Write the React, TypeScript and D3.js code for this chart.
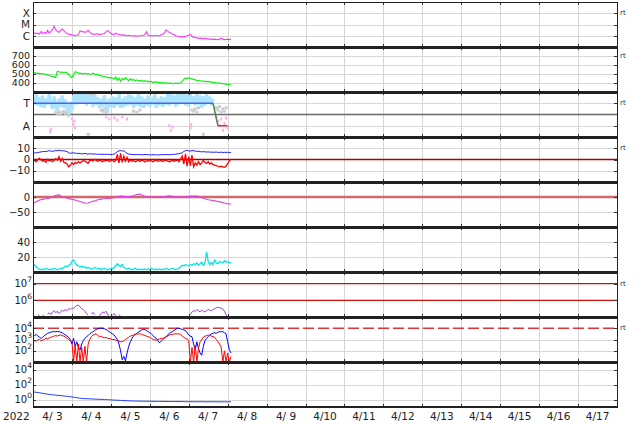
import React from 'react';
import * as d3 from 'd3';

const DAY_LABELS = ['4/ 3','4/ 4','4/ 5','4/ 6','4/ 7','4/ 8','4/ 9','4/10','4/11','4/12','4/13','4/14','4/15','4/16','4/17'];
const YEAR_LABEL = '2022';
const START = Date.UTC(2022, 3, 3);
const END = Date.UTC(2022, 3, 18);
const HOUR = 3600e3;

// Panel 1: X-ray flux, hourly, in units of 1e-6 W/m2 (C class)
const xrayC = [
  1.6,1.8,1.5,1.7,1.4,2.4,1.5,2.0,1.6,3.0,
  1.7,2.5,3.5,6.7,3.5,2.5,2.0,2.8,3.9,2.8,
  2.0,1.6,1.4,1.3,1.2,1.1,1.0,1.1,1.3,2.7,
  2.2,2.4,2.0,2.3,3.0,2.0,1.6,1.4,1.3,1.5,
  1.4,1.3,1.4,1.5,1.6,2.2,3.0,2.2,1.6,1.4,
  1.3,1.7,1.4,1.3,1.2,1.1,1.2,1.1,1.0,1.1,
  1.0,1.0,0.95,1.0,0.9,0.95,1.0,1.0,1.1,1.2,
  2.3,1.1,1.0,1.05,1.0,1.0,1.1,1.0,1.0,1.2,
  1.4,1.8,3.4,2.6,2.0,1.7,1.4,1.2,1.0,0.9,
  0.85,0.8,0.85,0.8,0.9,1.0,1.1,1.3,0.9,0.75,
  0.7,0.65,0.6,0.62,0.58,0.55,0.6,0.55,0.5,0.52,
  0.5,0.48,0.5,0.47,0.45,0.5,0.6,0.5,0.45,0.47,
  0.5,0.45,0.48
];

// Panel 2: solar wind speed (km/s), hourly
const speed = [
  512,515,508,510,505,500,505,498,495,490,
  485,478,470,468,462,530,525,518,522,515,
  520,510,495,470,462,490,525,520,512,505,
  508,500,510,498,505,495,500,508,495,490,
  498,485,480,475,470,468,462,458,460,455,
  445,465,430,455,420,450,435,460,440,425,
  445,430,440,425,435,420,430,428,418,425,
  415,420,412,418,405,410,415,402,408,400,
  405,398,402,395,400,398,392,396,400,395,
  398,402,420,440,455,448,460,452,445,440,
  435,430,428,425,422,420,418,415,418,412,
  410,408,405,402,400,398,395,392,390,388,
  385,382,380
];

// Panel 3: IMF sector (T = +0.5, A = -0.5), hourly
const imfPhi = [
  0.75,0.45,0.9,0.4,0.75,0.35,0.85,0.3,0.7,0.45,
  0.9,0.5,0.25,0.8,0.4,0.15,0.7,0.35,0.85,0.3,
  0.65,0.25,0.1,0.55,0.2,0.7,0.9,0.45,0.95,0.5,
  0.9,0.55,0.95,0.4,0.85,0.5,0.8,0.35,0.9,0.45,
  0.75,0.3,0.7,0.35,0.85,0.4,0.25,0.7,0.35,0.8,
  0.3,0.75,0.4,0.9,0.3,0.7,0.35,0.8,0.4,0.9,
  0.45,0.85,0.3,0.75,0.4,0.9,0.35,0.8,0.3,0.7,
  0.4,0.85,0.35,0.75,0.45,0.9,0.3,0.7,0.4,0.8,
  0.35,0.75,0.45,0.9,0.4,0.95,0.5,0.85,0.35,0.9,
  0.45,0.95,0.5,0.9,0.4,0.85,0.35,0.9,0.5,0.8,
  0.4,0.9,0.45,0.85,0.3,0.8,0.4,0.9,0.5,0.8,
  0.4,0.7
];
const imfGrayHour = [14,15,16,17,18,19,20,21,22,23,32,33,34,35,36,37,38,39,42,43,44,45,46,62,64,66,92,93,94,95,96,98,99,100,101,102,113,114,115,116,117,118,119,34,105];
const imfGrayVal = [0.1,0.05,0.12,0.0,0.08,0.15,0.05,0.1,-0.05,0.1,0.85,0.8,0.9,0.75,0.85,0.8,0.9,0.7,0.2,0.15,0.25,0.1,0.2,0.15,0.1,0.2,0.85,0.9,0.8,0.75,0.9,0.2,0.15,0.25,0.1,0.3,0.3,0.2,0.35,0.1,0.25,0.15,0.3,-0.88,-0.88];
const imfPinkHour = [10.5,11,24,25,25.5,26,45,47,50,52,55,58,84,85,86,97,97.5,113,114,115,116,117,118,119,120];
const imfPinkVal = [-0.76,-0.65,-0.2,-0.45,-0.3,-0.6,-0.1,-0.2,-0.15,-0.25,-0.1,-0.2,-0.5,-0.7,-0.55,-0.6,-0.45,-0.1,-0.3,-0.5,-0.2,-0.7,-0.4,-0.15,-0.6];
const sectorHour = [0, 111, 114, 120];
const sectorVal = [0.5, 0.5, -0.5, -0.5];
const sectorColor = ['#5363ea', '#4a8a4a', '#e03030'];

// Panel 4: IMF Bt and Bz (nT), hourly
const bt = [
  5.5,5.8,6.0,6.2,6.5,6.8,7.0,7.2,7.0,7.5,
  7.8,7.5,7.2,7.6,8.0,7.8,8.2,8.0,7.6,7.8,
  7.4,7.0,6.0,5.5,5.8,6.0,5.6,5.4,5.5,5.3,
  5.0,5.2,5.4,5.0,4.8,5.2,5.0,4.8,5.0,4.6,
  4.8,4.5,4.7,4.6,4.4,4.8,4.5,4.6,4.4,4.5,
  4.8,5.8,7.0,7.6,8.0,7.5,7.8,6.5,5.5,4.8,
  4.6,4.5,4.4,4.3,4.5,4.2,4.4,4.3,4.2,4.5,
  4.3,4.4,4.2,4.1,4.3,4.2,4.0,4.2,4.1,4.3,
  4.4,4.2,4.5,4.3,4.2,4.4,4.6,4.5,4.8,5.0,
  5.2,5.5,6.0,7.2,7.8,8.2,7.6,7.4,8.0,7.8,
  7.5,7.2,7.4,7.0,6.8,7.0,6.8,6.6,6.8,6.5,
  6.6,6.4,6.5,6.6,6.3,6.4,6.5,6.2,6.4,6.3,
  6.4,6.2,6.3
];
const bz = [
  0.5,-1.0,-2.0,0.0,1.2,-0.5,-1.5,-0.8,-2.5,0.2,
  -1.2,-0.3,-2.0,-1.0,0.8,-0.5,2.5,-1.5,1.0,-2.5,
  -3.0,-4.0,-6.5,-5.0,-3.0,-4.5,-2.5,-3.5,-2.0,-3.0,
  -2.0,-1.0,-1.5,-2.5,-3.5,-1.0,-0.5,-1.2,0.2,-0.8,
  -1.5,-0.5,-1.0,-2.0,-0.8,-1.2,-0.5,-1.8,-1.0,-0.3,
  -2.0,-1.0,4.5,-3.0,5.5,-2.5,3.0,-1.5,2.0,-2.0,
  -0.5,-1.5,-1.0,-2.0,-1.2,-0.8,-1.8,-0.5,-1.0,-2.2,
  -1.0,-1.5,-0.8,-1.2,-2.0,-1.0,-0.5,-1.5,-1.2,-0.8,
  -1.8,-1.0,-0.5,-1.5,-2.0,-1.2,-0.8,-1.5,-1.0,-0.5,
  -2.0,0.5,3.0,-4.0,5.0,-6.0,2.5,-5.5,4.0,-6.5,
  -3.0,-5.0,-2.0,-4.5,-3.0,-1.0,-2.5,-3.5,-2.0,-4.0,
  -3.0,-4.5,-5.0,-5.5,-6.0,-6.5,-6.0,-6.5,-7.0,-6.0,
  -4.0,-1.0,0.0
];

// Panel 5: Dst (nT), every 2 hours
const dst = [
  -21,-16,-10,-8,-6,-4,0,6,7,1,
  -2,-5,-8,-10,-13,-17,-21,-20,-16,-13,
  -9,-7,-6,-5,-4,-2,1,3,2,1,
  2,4,8,10,4,1,0,1,-1,0,
  1,2,4,2,1,1,0,1,2,3,
  3,2,-2,-6,-9,-11,-13,-15,-17,-20,
  -22,-24
];

// Panel 6: proton density (/cc), hourly
const density = [
  11,9,7,5,4,3,4,3,5,4,
  3,4,3,5,4,3,4,5,4,6,
  8,7,9,10,14,16,12,9,8,7,
  8,6,7,5,6,5,4,5,6,5,
  4,5,3,4,5,4,3,4,5,4,
  6,8,11,9,7,10,6,5,4,5,
  4,3,4,5,3,4,3,4,3,4,
  3,4,3,5,4,3,4,3,4,3,
  4,3,5,4,3,4,5,4,3,4,
  5,7,9,8,10,9,8,10,9,11,
  10,12,9,11,13,9,12,27,14,10,
  13,10,16,12,11,14,13,12,15,13,
  14,12,13
];

// Panel 7: particle fluence, hourly, in units of 1e5 (null = below range)
const fluence = [
  1.3,1.1,null,1.4,1.2,null,1.3,1.1,null,1.5,
  1.8,1.4,2.0,2.4,1.8,2.2,1.6,2.0,2.6,2.2,
  2.8,2.4,3.2,2.8,3.6,3.2,4.2,4.8,5.2,4.0,
  3.2,2.8,2.2,1.6,1.3,null,1.5,1.9,1.4,null,
  null,1.2,1.6,2.0,1.8,2.2,1.4,1.2,null,1.3,
  1.6,1.2,null,1.4,1.1,null,1.2,null,null,null,
  null,null,null,null,null,null,null,null,null,null,
  null,null,null,null,null,null,null,null,null,null,
  null,null,null,null,null,null,null,null,null,null,
  null,null,null,null,null,null,null,1.4,2.0,2.4,
  2.2,2.8,2.4,2.0,2.6,2.2,2.0,2.4,2.8,2.6,
  2.4,2.8,3.2,3.6,3.8,3.6,3.4,3.0,2.2,1.4,
  1.0,null,null
];

// Panel 8: electron flux, hourly, log10 values
const elecBlueLog = [
  3.25,3.35,3.45,3.3,3.2,3.1,3.2,3.35,3.45,3.55,
  3.6,3.65,3.7,3.68,3.7,3.72,3.7,3.65,3.6,3.5,
  3.4,3.3,3.2,3.0,2.6,3.1,2.4,2.8,2.3,2.07,
  2.6,2.9,3.1,3.25,3.35,3.5,3.6,3.7,3.8,3.9,
  3.95,4.0,4.0,4.0,3.95,3.9,3.8,3.7,3.6,3.5,
  3.4,3.2,3.0,2.6,2.0,1.2,1.5,1.1,1.8,2.4,
  2.8,3.1,3.3,3.45,3.55,3.65,3.75,3.85,3.9,3.88,
  3.8,3.7,3.6,3.5,3.35,3.2,3.1,2.9,2.7,2.85,
  3.0,3.1,3.25,3.4,3.55,3.65,3.7,3.8,3.9,4.0,
  4.0,3.95,3.9,3.85,3.8,3.6,3.4,3.3,3.25,2.6,
  2.1,2.8,2.2,1.8,1.6,2.4,2.9,3.1,3.25,3.4,
  3.5,3.55,3.6,3.55,3.65,3.7,3.68,3.7,3.6,3.5,
  2.8,2.1,1.8
];
const elecRedLog = [
  2.8,2.9,2.85,2.95,3.0,2.9,2.95,3.0,3.1,3.05,
  3.15,3.2,3.25,3.3,3.35,3.3,3.38,3.4,3.35,3.3,
  3.2,3.1,3.0,2.9,2.8,1.0,2.5,1.0,2.6,1.0,
  2.3,1.0,2.4,1.0,2.6,3.0,3.25,3.4,3.45,3.5,
  3.35,3.25,3.3,3.2,3.15,3.2,3.1,3.1,3.05,3.0,
  3.0,2.95,2.9,2.85,2.8,2.8,2.9,3.0,3.1,3.2,
  3.3,3.35,3.4,3.45,3.5,3.5,3.5,3.45,3.4,3.35,
  3.3,3.25,3.2,3.1,3.0,2.95,2.95,3.0,3.05,3.1,
  3.1,3.15,3.25,3.3,3.4,3.45,3.45,3.5,3.5,3.5,
  3.5,3.45,3.3,3.2,3.1,3.05,2.9,1.0,2.3,1.0,
  2.5,1.0,2.2,2.8,3.0,3.2,3.3,3.35,3.4,3.35,
  3.3,3.25,3.2,3.0,2.8,2.6,2.3,1.0,2.0,1.0,
  1.8,1.0,1.5
];

// Panel 9: proton flux, every 2 hours
const protonFlux = [
  11,9,8,6.6,5.6,4.8,4.2,3.8,3.5,3.2,
  2.8,2.5,2.2,1.9,1.6,1.4,1.3,1.25,1.2,1.12,
  1.07,1.05,1.0,0.95,0.9,0.83,0.8,0.76,0.71,0.69,
  0.66,0.63,0.63,0.6,0.6,0.58,0.59,0.56,0.58,0.55,
  0.56,0.54,0.55,0.53,0.54,0.52,0.53,0.51,0.52,0.5,
  0.51,0.5,0.52,0.49,0.5,0.51,0.49,0.5,0.48,0.5,
  0.49,0.5
];

// Tick values / labels
const P1_TICKS = [1e-4, 1e-5, 1e-6];
const P1_LABELS = ['X', 'M', 'C'];
const P2_TICKS = [700, 600, 500, 400];
const P3_TICKS = [0.5, -0.5];
const P3_LABELS = ['T', 'A'];
const P4_TICKS = [10, 0, -10];
const P4_LABELS = ['10', '0', '\u221210'];
const P5_TICKS = [0, -50];
const P5_LABELS = ['0', '\u221250'];
const P6_TICKS = [40, 20];
const P7_TICKS = [1e7, 1e6];
const P7_EXP = ['7', '6'];
const P8_TICKS = [1e4, 1e3, 1e2];
const P8_EXP = ['4', '3', '2'];
const P9_TICKS = [1e4, 1e2, 1e0];
const P9_EXP = ['4', '2', '0'];

const L = 33, R = 617, TOP = 2, PH = 45;
const FONT = 'DejaVu Sans';
const GRID = '#d6d6d6';

export default function App() {
  const x = d3.scaleUtc().domain([new Date(START), new Date(END)]).range([L, R]);
  const top = (i: number) => TOP + i * PH;
  const bot = (i: number) => TOP + (i + 1) * PH;
  const y = [
    d3.scaleLog().domain([1e-7, 1e-3]).range([bot(0), top(0)]),
    d3.scaleLinear().domain([300, 800]).range([bot(1), top(1)]),
    d3.scaleLinear().domain([-1, 1]).range([bot(2), top(2)]),
    d3.scaleLinear().domain([-20, 20]).range([bot(3), top(3)]),
    d3.scaleLinear().domain([-100, 50]).range([bot(4), top(4)]),
    d3.scaleLinear().domain([0, 60]).range([bot(5), top(5)]),
    d3.scaleLog().domain([1e5, 5e7]).range([bot(6), top(6)]),
    d3.scaleLog().domain([10, 1e5]).range([bot(7), top(7)]),
    d3.scaleLog().domain([1e-1, 1e5]).range([bot(8), top(8)]),
  ];
  const tAt = (h: number) => new Date(START + h * HOUR);

  const path = (vals: (number | null)[], stepH: number, ys: any, f: (v: number) => number = (v) => v) =>
    d3.line<number>()
      .defined((i) => vals[i] != null)
      .x((i) => x(tAt(i * stepH)))
      .y((i) => ys(f(vals[i] as number)))(d3.range(vals.length)) || '';

  const days = d3.utcDay.range(new Date(START + 86400e3), new Date(END));
  const dayCenters = DAY_LABELS.map((_, i) => new Date(START + (i + 0.5) * 86400e3));

  const grids: number[][] = [P1_TICKS, P2_TICKS, P3_TICKS, [10, -10], [-50], P6_TICKS, [], [1e3, 1e2], P9_TICKS];
  const tickVals: number[][] = [P1_TICKS, P2_TICKS, P3_TICKS, P4_TICKS, P5_TICKS, P6_TICKS, P7_TICKS, P8_TICKS, P9_TICKS];

  const label = (i: number, v: number, text: string, key: string, fs = 10) => (
    <text key={key} x={30} y={y[i](v) + fs * 0.36} textAnchor="end" fontSize={fs} fontFamily={FONT} fill="#222">{text}</text>
  );
  const supLabel = (i: number, v: number, exp: string, key: string) => (
    <text key={key} x={32} y={y[i](v) + 3.6} textAnchor="end" fontSize={10} fontFamily={FONT} fill="#222">
      10<tspan dy={-5} fontSize={7.5}>{exp}</tspan>
    </text>
  );
  const rt = (yy: number, key: string) => (
    <text key={key} x={620} y={yy + 2} fontSize={7} fontFamily={FONT} fill="#333">rt</text>
  );
  const hy = (v: number) => Math.round(v) + 0.5;
  const vx = (d: Date) => Math.round(x(d)) + 0.5;

  return (
    <svg width={634} height={424} style={{ position: 'absolute', left: 0, top: 0, background: '#fff' }}>
      <defs>
        {d3.range(9).map((i) => (
          <clipPath id={`clip${i}`} key={i}>
            <rect x={L} y={top(i)} width={R - L} height={PH} />
          </clipPath>
        ))}
      </defs>
      <rect x={0} y={0} width={634} height={424} fill="#fff" />

      {/* grids */}
      <g shapeRendering="crispEdges">
        {days.map((d, k) => (
          <line key={`vg${k}`} x1={vx(d)} x2={vx(d)} y1={TOP} y2={bot(8)} stroke={GRID} strokeWidth={1} />
        ))}
        {grids.map((g, i) => g.map((v, k) => (
          <line key={`hg${i}-${k}`} x1={L} x2={R} y1={hy(y[i](v))} y2={hy(y[i](v))} stroke={GRID} strokeWidth={1} />
        )))}
      </g>

      {/* reference lines */}
      <line x1={L} x2={R} y1={y[2](0)} y2={y[2](0)} stroke="#6a6a6a" strokeWidth={1.3} />
      <line x1={L} x2={R} y1={y[3](0)} y2={y[3](0)} stroke="#b00000" strokeWidth={1.3} />
      <line x1={L} x2={R} y1={y[4](0)} y2={y[4](0)} stroke="#d06a6a" strokeWidth={2.4} />
      {P7_TICKS.map((v, k) => (
        <line key={`p7r${k}`} x1={L} x2={R} y1={y[6](v)} y2={y[6](v)} stroke="#cc1010" strokeWidth={1.2} />
      ))}
      <line x1={L} x2={R} y1={y[7](1e4)} y2={y[7](1e4)} stroke="#e03535" strokeWidth={1.5} strokeDasharray="11,4" />

      {/* data */}
      <g clipPath="url(#clip0)">
        <path d={path(xrayC, 1, y[0], (v) => v * 1e-6)} fill="none" stroke="#ff33ff" strokeWidth={1.1} />
      </g>
      <g clipPath="url(#clip1)">
        <path d={path(speed, 1, y[1])} fill="none" stroke="#11ee11" strokeWidth={1.2} />
      </g>
      <g clipPath="url(#clip2)">
        {imfGrayHour.map((h, k) => (
          <rect key={`g${k}`} x={x(tAt(h)) - 1.5} y={y[2](imfGrayVal[k]) - 1.5} width={3} height={3} fill="#cccccc" />
        ))}
        <path d={path(imfPhi, 1, y[2])} fill="none" stroke="#aae4ff" strokeWidth={3.2} />
        {imfPinkHour.map((h, k) => (
          <rect key={`p${k}`} x={x(tAt(h)) - 1} y={y[2](imfPinkVal[k]) - 1.5} width={2} height={3} fill="#ffaaee" />
        ))}
        {sectorColor.map((c, k) => (
          <line key={`s${k}`} x1={x(tAt(sectorHour[k]))} x2={x(tAt(sectorHour[k + 1]))}
            y1={y[2](sectorVal[k])} y2={y[2](sectorVal[k + 1])} stroke={c} strokeWidth={1.5} />
        ))}
      </g>
      <g clipPath="url(#clip3)">
        <path d={path(bt, 1, y[3])} fill="none" stroke="#1a1aff" strokeWidth={1} />
        <path d={path(bz, 1, y[3])} fill="none" stroke="#ff0000" strokeWidth={1.3} />
      </g>
      <g clipPath="url(#clip4)">
        <path d={path(dst, 2, y[4])} fill="none" stroke="#e040e0" strokeWidth={1.1} />
      </g>
      <g clipPath="url(#clip5)">
        <path d={path(density, 1, y[5])} fill="none" stroke="#00e6e6" strokeWidth={1.3} />
      </g>
      <g clipPath="url(#clip6)">
        <path d={path(fluence, 1, y[6], (v) => v * 1e5)} fill="none" stroke="#a040d0" strokeWidth={1} />
      </g>
      <g clipPath="url(#clip7)">
        <path d={path(elecBlueLog, 1, y[7], (v) => Math.pow(10, v))} fill="none" stroke="#0000ff" strokeWidth={1} />
        <path d={path(elecRedLog, 1, y[7], (v) => Math.pow(10, v))} fill="none" stroke="#ff0000" strokeWidth={1} />
      </g>
      <g clipPath="url(#clip8)">
        <path d={path(protonFlux, 2, y[8])} fill="none" stroke="#2040ff" strokeWidth={1} />
      </g>

      {/* tick marks */}
      <g shapeRendering="crispEdges">
        {d3.range(9).map((i) => days.map((d, k) => (
          <g key={`tm${i}-${k}`}>
            <line x1={vx(d)} x2={vx(d)} y1={top(i)} y2={top(i) + 3} stroke="#333" />
            <line x1={vx(d)} x2={vx(d)} y1={bot(i)} y2={bot(i) - 3} stroke="#333" />
          </g>
        )))}
        {tickVals.map((g, i) => g.map((v, k) => (
          <g key={`ty${i}-${k}`}>
            <line x1={L} x2={L + 3} y1={hy(y[i](v))} y2={hy(y[i](v))} stroke="#333" />
            <line x1={R - 3} x2={R} y1={hy(y[i](v))} y2={hy(y[i](v))} stroke="#333" />
          </g>
        )))}

        {/* frame */}
        <line x1={L + 0.5} x2={L + 0.5} y1={TOP} y2={bot(8)} stroke="#222" strokeWidth={1} />
        <line x1={R + 0.5} x2={R + 0.5} y1={TOP} y2={bot(8)} stroke="#222" strokeWidth={1} />
        <line x1={L} x2={R} y1={TOP + 0.5} y2={TOP + 0.5} stroke="#222" strokeWidth={1} />
        {d3.range(1, 9).map((i) => (
          <line key={`sep${i}`} x1={L} x2={R + 1} y1={top(i) + 0.5} y2={top(i) + 0.5} stroke="#222" strokeWidth={3} />
        ))}
        <line x1={L} x2={R + 1} y1={bot(8)} y2={bot(8)} stroke="#222" strokeWidth={2} />
      </g>

      {/* y labels */}
      {P1_TICKS.map((v, k) => label(0, v, P1_LABELS[k], `l1${k}`, 10.5))}
      {P2_TICKS.map((v, k) => label(1, v, String(v), `l2${k}`, 9.5))}
      {P3_TICKS.map((v, k) => label(2, v, P3_LABELS[k], `l3${k}`, 10.5))}
      {P4_TICKS.map((v, k) => label(3, v, P4_LABELS[k], `l4${k}`))}
      {P5_TICKS.map((v, k) => label(4, v, P5_LABELS[k], `l5${k}`))}
      {P6_TICKS.map((v, k) => label(5, v, String(v), `l6${k}`))}
      {P7_TICKS.map((v, k) => supLabel(6, v, P7_EXP[k], `l7${k}`))}
      {P8_TICKS.map((v, k) => supLabel(7, v, P8_EXP[k], `l8${k}`))}
      {P9_TICKS.map((v, k) => supLabel(8, v, P9_EXP[k], `l9${k}`))}

      {/* right-side rt marks */}
      {rt(y[0](1e-4), 'rt1')}
      {rt(y[1](700), 'rt2')}
      {rt(y[2](0.5), 'rt3')}
      {rt(y[3](10), 'rt4')}
      {rt(y[6](1e7), 'rt7')}
      {rt(y[7](1e4), 'rt8')}

      {/* x labels */}
      <text x={3} y={420} fontSize={10.5} fontFamily={FONT} fill="#222">{YEAR_LABEL}</text>
      {DAY_LABELS.map((s, k) => (
        <text key={`dl${k}`} x={x(dayCenters[k])} y={420} textAnchor="middle" fontSize={10.5}
          fontFamily={FONT} fill="#222" style={{ whiteSpace: 'pre' }}>{s}</text>
      ))}
    </svg>
  );
}
